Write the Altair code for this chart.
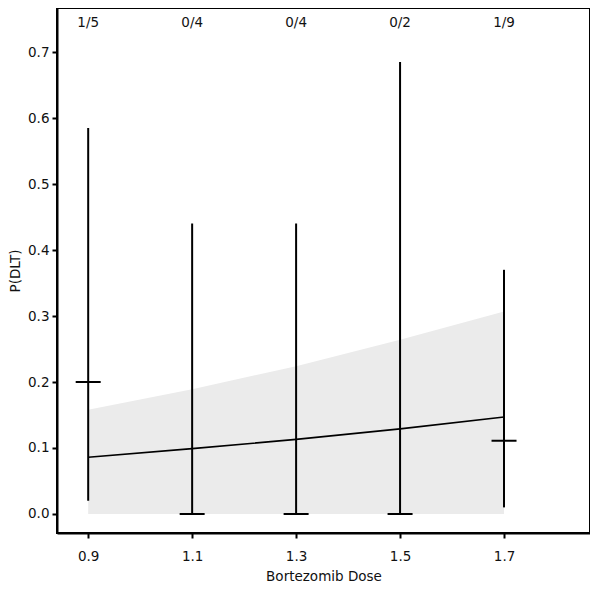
import altair as alt
import pandas as pd

doses = [0.9, 1.1, 1.3, 1.5, 1.7]
labels = ["1/5", "0/4", "0/4", "0/2", "1/9"]
obs_est = [0.2, 0.0, 0.0, 0.0, 0.111]
ci_low = [0.02, 0.0, 0.0, 0.0, 0.01]
ci_high = [0.585, 0.44, 0.44, 0.685, 0.37]
model_est = [0.086, 0.099, 0.113, 0.129, 0.147]
band_low = [0.0, 0.0, 0.0, 0.0, 0.0]
band_high = [0.158, 0.189, 0.224, 0.264, 0.307]
label_y = [0.744] * 5

df = pd.DataFrame({
    "dose": doses, "label": labels, "obs": obs_est, "lo": ci_low, "hi": ci_high,
    "model": model_est, "blo": band_low, "bhi": band_high, "ly": label_y,
})

FONT = "DejaVu Sans"
FS = 13.5
xs = alt.Scale(domain=[0.84, 1.8654], nice=False, zero=False)
ys = alt.Scale(domain=[-0.0288, 0.7667], nice=False, zero=False)

xenc = alt.X("dose:Q", scale=xs, title="Bortezomib Dose",
             axis=alt.Axis(values=doses, format=".1f", grid=False, tickSize=5,
                           tickWidth=2, domainWidth=2, domainColor="black", tickColor="black",
                           labelFont=FONT, labelFontSize=FS, labelColor="#111",
                           titleFont=FONT, titleFontSize=FS, titleFontWeight="normal",
                           titleColor="#111", labelPadding=11, titlePadding=7))
yaxis = alt.Axis(values=[0, 0.1, 0.2, 0.3, 0.4, 0.5, 0.6, 0.7], format=".1f", grid=False,
                 tickSize=5, tickWidth=2, domainWidth=2, domainColor="black", tickColor="black",
                 labelFont=FONT, labelFontSize=FS, labelColor="#111",
                 titleFont=FONT, titleFontSize=FS, titleFontWeight="normal",
                 titleColor="#111", labelPadding=3, titlePadding=5)

base = alt.Chart(df)

band = base.mark_area(color="#ebebeb", opacity=1).encode(
    x=xenc, y=alt.Y("blo:Q", scale=ys, title="P(DLT)", axis=yaxis), y2="bhi:Q")
line = base.mark_line(color="black", strokeWidth=1.6).encode(
    x="dose:Q", y="model:Q")
bars = base.mark_rule(color="black", strokeWidth=2).encode(
    x="dose:Q", y="lo:Q", y2="hi:Q")
ticks = base.mark_tick(color="black", orient="horizontal", size=25, thickness=2, opacity=1).encode(
    x="dose:Q", y="obs:Q")
text = base.mark_text(font=FONT, fontSize=FS, color="#111").encode(
    x="dose:Q", y="ly:Q", text="label:N")

chart = alt.layer(band, line, bars, ticks, text).properties(
    width=533, height=525, padding={"left": 0, "top": 0, "right": 0, "bottom": 0}
).configure_view(stroke="black", strokeWidth=2)

chart.save("out.html", embed_options={"renderer": "svg", "actions": False})
